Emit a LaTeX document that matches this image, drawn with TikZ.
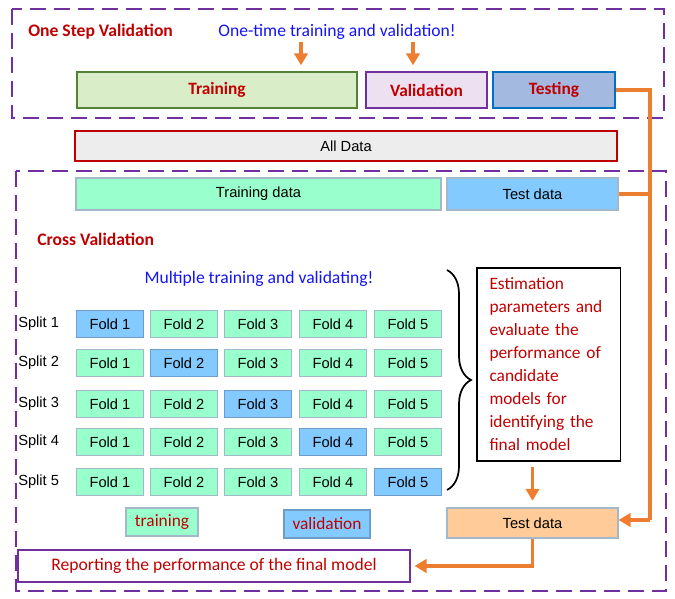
\documentclass[tikz,border=0pt]{standalone}
\usepackage{fontspec}
\setmainfont{Carlito}
\newfontfamily\arialfont{Liberation Sans}
\usetikzlibrary{positioning,arrows.meta,decorations.pathreplacing}
\definecolor{darkred}{HTML}{C00000}
\definecolor{textblue}{HTML}{1414F5}
\definecolor{arrorange}{HTML}{ED7D31}
\definecolor{cvpurple}{HTML}{7030A0}
\definecolor{mint}{HTML}{99FFCC}
\definecolor{valblue}{HTML}{82CAFF}
\definecolor{peach}{HTML}{FFCC99}
\definecolor{foldline}{HTML}{A3B8C8}
\definecolor{valline}{HTML}{6F9CCB}
\definecolor{trainfill}{HTML}{D9EDC8}
\definecolor{trainline}{HTML}{548235}
\definecolor{valfill}{HTML}{EDE0F0}
\definecolor{testfill}{HTML}{A4B9E0}
\definecolor{testline}{HTML}{0070C0}
\tikzstyle{phase}=[draw, line width=2pt, minimum height=27pt, inner sep=0pt, text=darkred, font=\bfseries\fontsize{13}{15}\selectfont]
\tikzstyle{databox}=[draw=foldline, line width=0.8pt, minimum height=24pt, inner sep=0pt, font=\arialfont\fontsize{11}{13}\selectfont]
\tikzstyle{fold}=[databox, fill=mint, minimum width=50.25pt, minimum height=20.25pt]
\tikzstyle{valfold}=[fold, fill=valblue, draw=valline]
\tikzstyle{split}=[anchor=west, inner sep=0pt, font=\arialfont\fontsize{11}{13}\selectfont]
\tikzstyle{frame}=[draw=cvpurple, line width=2pt, dash pattern=on 12pt off 6pt]
\tikzstyle{arr}=[draw=arrorange, line width=2.8pt, -{Triangle[length=9pt,width=10pt]}]
\tikzstyle{link}=[draw=arrorange, line width=2.8pt]
\newcommand{\fold}{\node[fold]}
\newcommand{\valfold}{\node[valfold]}

\begin{document}
\begin{tikzpicture}[x=0.75pt, y=-0.75pt]
    \useasboundingbox (0,0) rectangle (675,599);
    % one step validation
    \draw[frame] (12,9) rectangle (664,118);
    \node (osv) at (28,32) [anchor=west, inner sep=0pt, text=darkred, font=\bfseries\fontsize{13.2}{15}\selectfont] {One Step Validation};
    \node (onetime) at (337,32) [inner sep=0pt, text=textblue, font=\fontsize{13.2}{15}\selectfont] {One-time training and validation!};
    \node[phase, draw=trainline, fill=trainfill, minimum width=210pt] (training) at (217,90) {Training};
    \node[phase, draw=cvpurple, fill=valfill, minimum width=90.75pt] (validation) at (426.5,90) {Validation};
    \node[phase, draw=testline, fill=testfill, minimum width=91.5pt] (testing) at (554,90) {Testing};
    \coordinate (t1) at (301,42);
    \coordinate (t2) at (413,42);
    \draw[arr, shorten >=4pt] (t1) -- (t1 |- training.north);
    \draw[arr, shorten >=4pt] (t2) -- (t2 |- validation.north);
    % all data
    \node[databox, draw=darkred, line width=1.6pt, fill=black!7, minimum width=406.5pt, minimum height=22.5pt] (alldata) at (346,146) {All Data};
    % cross validation
    \draw[frame] (16,171) rectangle (666,591);
    \node[databox, fill=mint, minimum width=273.75pt] (traindata) at (258.5,194) {Training data};
    \node[databox, fill=valblue, minimum width=128.25pt] (testtop) at (532.5,194) {Test data};
    \node (cv) at (37,239) [anchor=west, inner sep=0pt, text=darkred, font=\bfseries\fontsize{13.2}{15}\selectfont] {Cross Validation};
    \node (multi) at (259,279) [inner sep=0pt, text=textblue, font=\fontsize{13.2}{15}\selectfont] {Multiple training and validating!};
    \node[split] (s1) at (18,324) {Split 1};
    \node[split] (s2) at (18,363) {Split 2};
    \node[split] (s3) at (18,404) {Split 3};
    \node[split] (s4) at (18,442) {Split 4};
    \node[split] (s5) at (18,482) {Split 5};
    \valfold (f11) at (110,324) {Fold 1};
    \fold (f12) at (184,324) {Fold 2};
    \fold (f13) at (258,324) {Fold 3};
    \fold (f14) at (333,324) {Fold 4};
    \fold (f15) at (408,324) {Fold 5};
    \fold (f21) at (110,363) {Fold 1};
    \valfold (f22) at (184,363) {Fold 2};
    \fold (f23) at (258,363) {Fold 3};
    \fold (f24) at (333,363) {Fold 4};
    \fold (f25) at (408,363) {Fold 5};
    \fold (f31) at (110,404) {Fold 1};
    \fold (f32) at (184,404) {Fold 2};
    \valfold (f33) at (258,404) {Fold 3};
    \fold (f34) at (333,404) {Fold 4};
    \fold (f35) at (408,404) {Fold 5};
    \fold (f41) at (110,442) {Fold 1};
    \fold (f42) at (184,442) {Fold 2};
    \fold (f43) at (258,442) {Fold 3};
    \valfold (f44) at (333,442) {Fold 4};
    \fold (f45) at (408,442) {Fold 5};
    \fold (f51) at (110,482) {Fold 1};
    \fold (f52) at (184,482) {Fold 2};
    \fold (f53) at (258,482) {Fold 3};
    \fold (f54) at (333,482) {Fold 4};
    \valfold (f55) at (408,482) {Fold 5};
    \draw[line width=1.3pt, decorate, decoration={brace, amplitude=18pt}] (447,270) -- (447,490);
    \node[draw, line width=0.8pt, minimum height=144.75pt, text width=88.5pt, inner xsep=9.4pt, align=left, text=darkred, font=\fontsize{13}{17.25}\selectfont] (estim) at (548.5,364.5) {Estimation\\ parameters and\\ evaluate the\\ performance of\\ candidate\\ models for\\ identifying the\\ final model};
    % legend
    \node[databox, fill=mint, minimum width=54pt, minimum height=21pt, text=darkred, font=\fontsize{13}{15}\selectfont] (legtrain) at (162,522) {training};
    \node[databox, fill=valblue, draw=valline, minimum width=64.5pt, minimum height=21pt, text=darkred, font=\fontsize{13}{15}\selectfont] (legval) at (327,524) {validation};
    % final test
    \node[databox, fill=peach, minimum width=128.25pt, minimum height=22.5pt] (testbot) at (532.5,523) {Test data};
    \node[draw=cvpurple, line width=0.8pt, minimum width=294pt, minimum height=24pt, inner sep=0pt, text=darkred, font=\fontsize{13.2}{15}\selectfont] (report) at (214,566) {Reporting the performance of the final model};
    \coordinate (c1) at (650,90);
    \coordinate (c2) at (650,520);
    \draw[link] (testing.east) -- (c1) -- (c2);
    \draw[link] (testtop.east) -- (testtop.east -| c1);
    \draw[arr] (c2) -- (c2 -| testbot.east);
    \draw[arr, shorten <=4pt, shorten >=5pt] (estim.south -| testbot.north) -- (testbot.north);
    \draw[arr, shorten >=3pt] (testbot.south) -- (testbot.south |- report.east) -- (report.east);
\end{tikzpicture}
\end{document}
